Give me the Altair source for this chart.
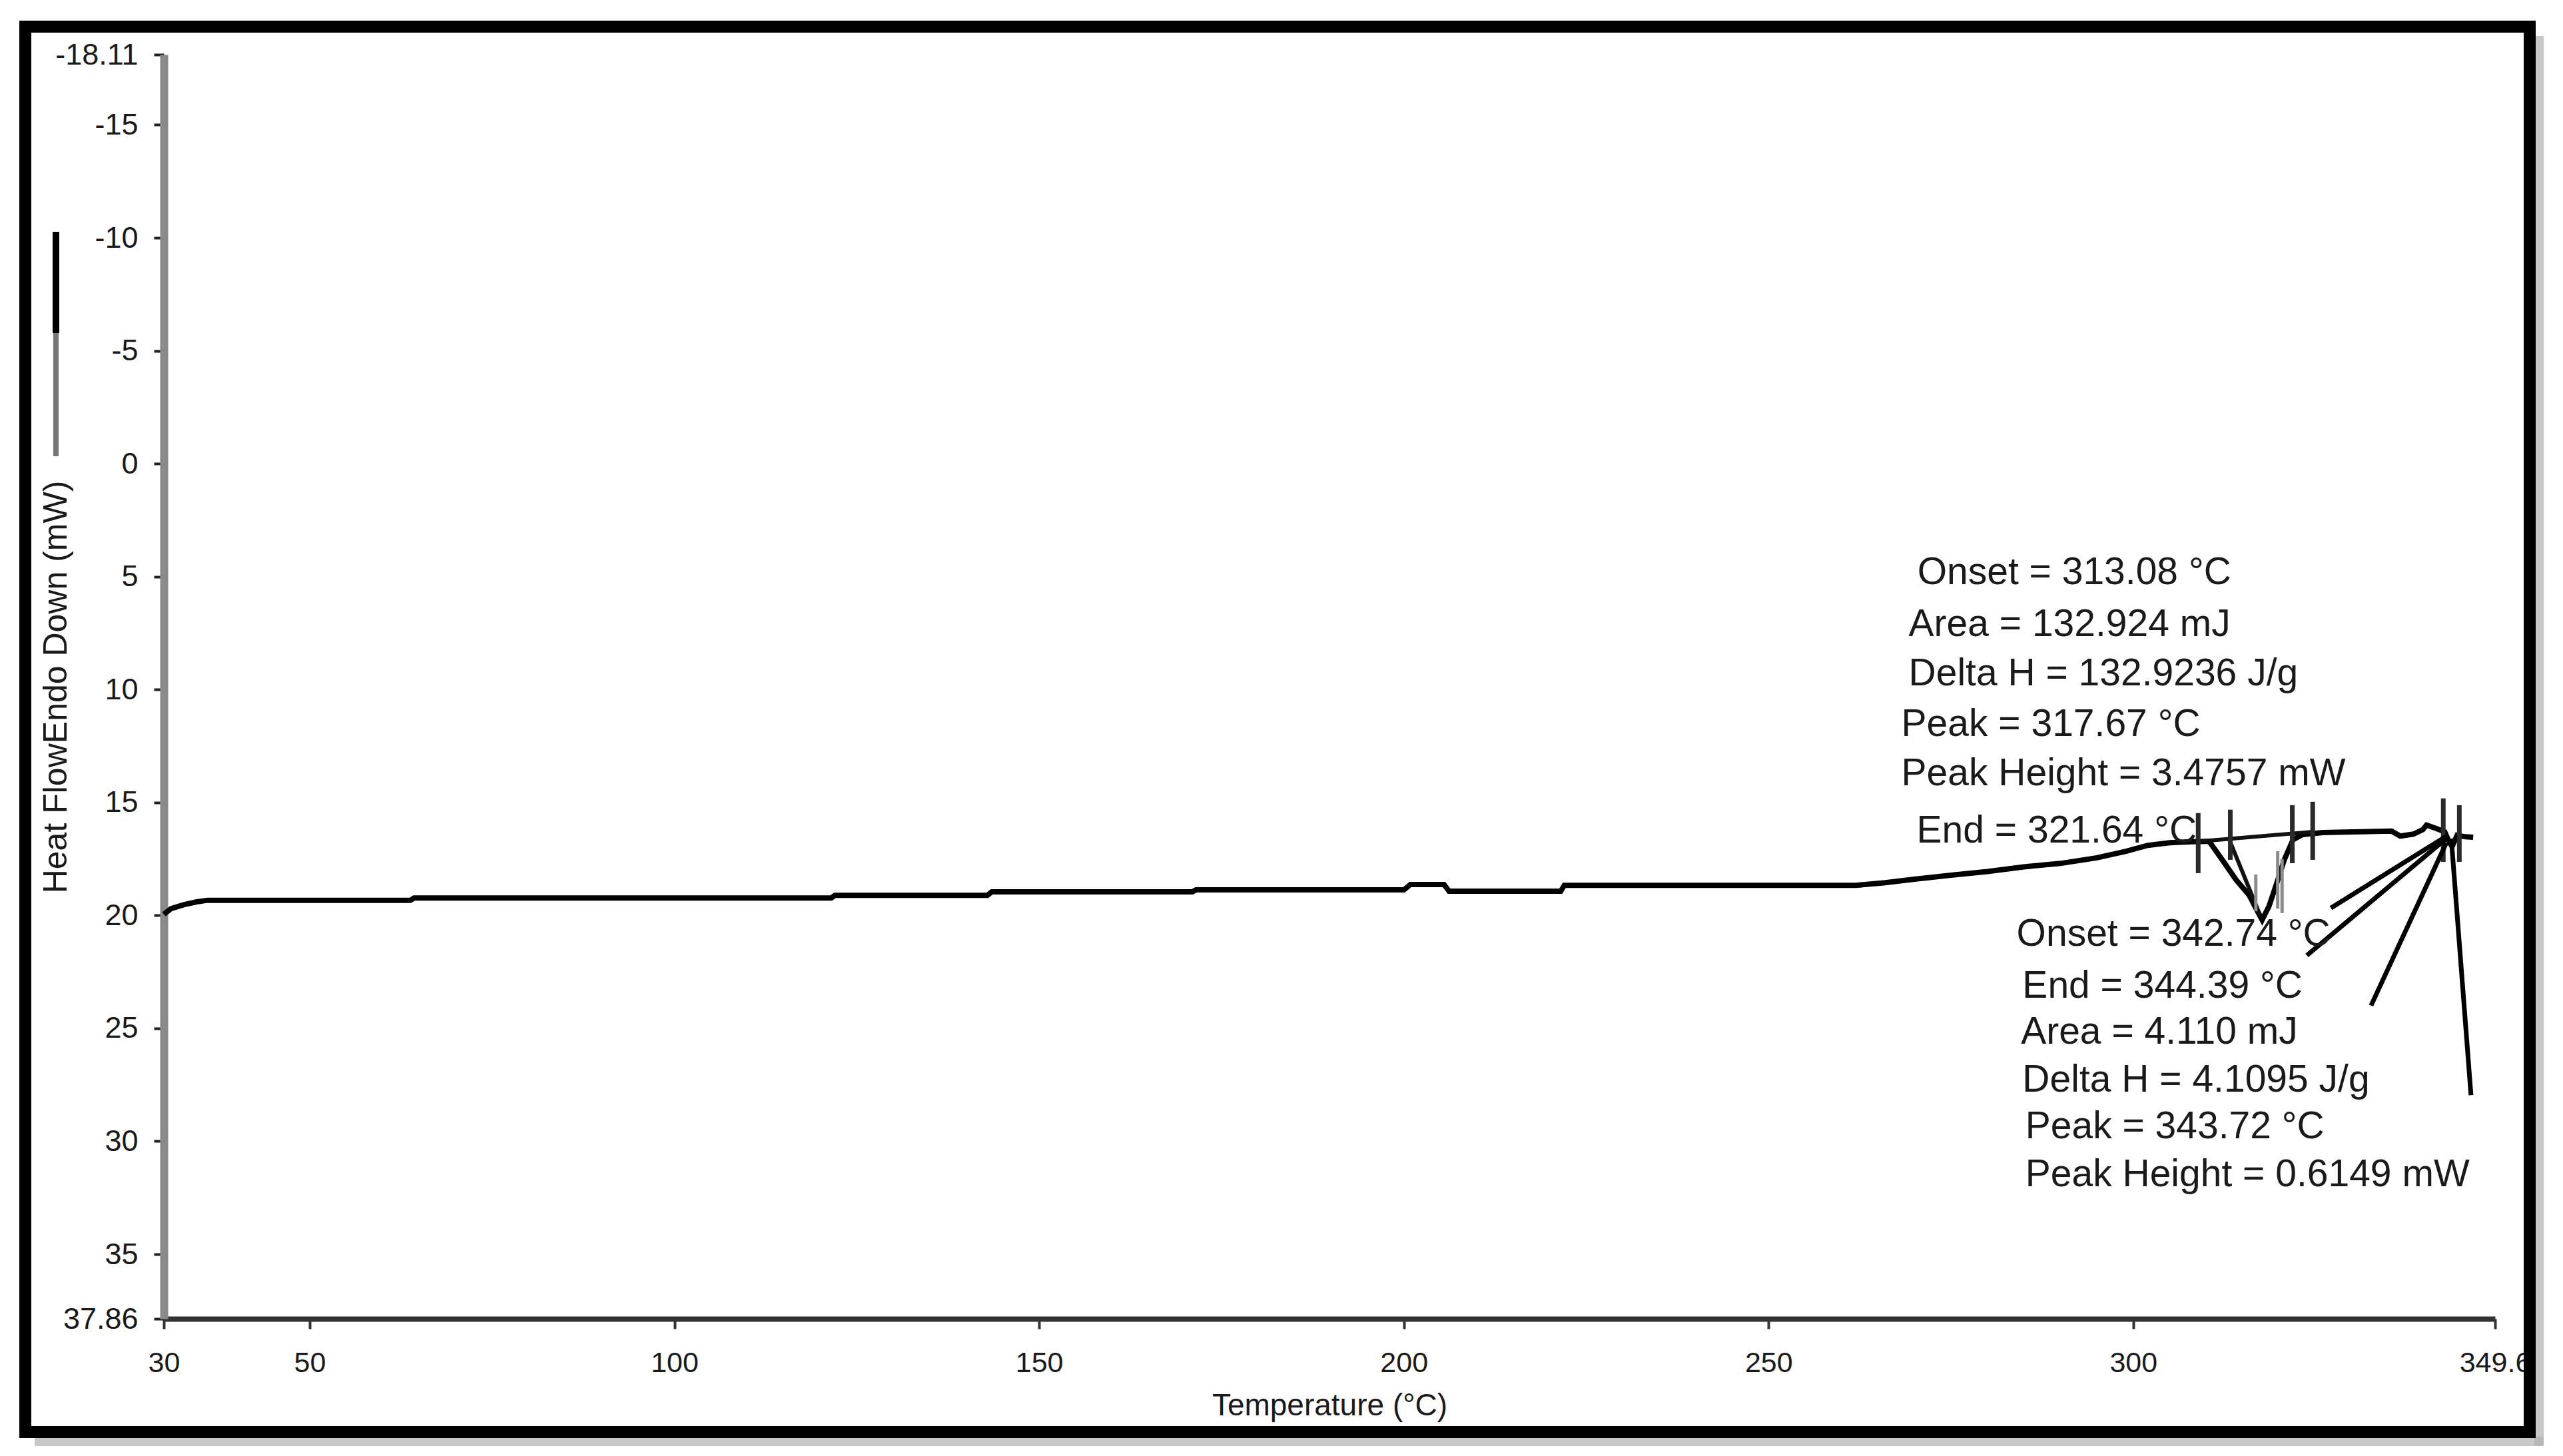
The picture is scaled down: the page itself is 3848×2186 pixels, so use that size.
import altair as alt
import pandas as pd

# ---------------- data ----------------
temperature_c = [30.0, 31.0, 32.8, 34.5, 36.0, 63.8, 64.3, 121.5, 122.0, 142.9, 143.5,
                 171.0, 171.5, 200.0, 200.9, 205.5, 206.2, 221.5, 222.0, 262.0, 266.0,
                 270.0, 275.0, 280.0, 285.0, 290.0, 295.0, 299.0, 302.0, 305.0, 308.0,
                 310.4, 312.2, 314.1, 315.9, 317.0, 317.67, 318.6, 319.6, 320.7, 321.9,
                 323.2, 326.0, 330.0, 335.4, 336.6, 338.4, 339.7, 340.2, 341.5, 342.7,
                 343.3, 343.72, 344.4, 345.5, 346.6]
heat_flow_mw = [19.95, 19.70, 19.52, 19.40, 19.33, 19.33, 19.23, 19.23, 19.11, 19.11, 18.96,
                18.96, 18.87, 18.87, 18.63, 18.63, 18.93, 18.93, 18.67, 18.67, 18.55,
                18.40, 18.22, 18.06, 17.85, 17.70, 17.45, 17.16, 16.90, 16.78, 16.74,
                16.72, 17.54, 18.43, 19.11, 19.80, 20.20, 19.60, 18.64, 17.54, 16.65,
                16.42, 16.33, 16.30, 16.27, 16.49, 16.40, 16.20, 16.00, 16.15, 16.30,
                16.75, 16.95, 16.45, 16.52, 16.54]

x_ticks = [30, 50, 100, 150, 200, 250, 300, 349.6]
y_ticks = [-18.11, -15, -10, -5, 0, 5, 10, 15, 20, 25, 30, 35, 37.86]

# peak-limit markers (temperature, top, bottom)
limit_t = [308.9, 313.3, 321.8, 324.6, 342.5, 344.7]
limit_top = [15.47, 15.32, 15.12, 14.97, 14.82, 15.12]
limit_bot = [18.13, 17.54, 17.69, 17.54, 17.63, 17.63]

# thin grey peak markers
gray_t = [316.8, 319.8, 320.4]
gray_top = [18.19, 17.16, 17.50]
gray_bot = [19.82, 19.70, 19.90]

# baseline and tangent construction lines
construct_t1 = [308.9, 313.1]
construct_v1 = [16.73, 16.60]
construct_t2 = [324.6, 317.4]
construct_v2 = [16.30, 20.00]

# leader lines from the second peak to its labels
leader_t1 = [342.9, 342.9, 342.9, 343.6]
leader_v1 = [16.50, 16.60, 16.80, 16.60]
leader_t2 = [327.1, 323.8, 332.6, 346.3]
leader_v2 = [19.67, 21.77, 23.99, 27.96]

labels_a = ["Onset = 313.08 °C", "Area = 132.924 mJ", "Delta H = 132.9236 J/g",
            "Peak = 317.67 °C", "Peak Height = 3.4757 mW", "End = 321.64 °C"]
labels_a_t = [270.4, 269.2, 269.2, 268.2, 268.2, 270.3]
labels_a_v = [4.82, 7.12, 9.30, 11.55, 13.73, 16.27]

labels_b = ["Onset = 342.74 °C", "End = 344.39 °C", "Area = 4.110 mJ",
            "Delta H = 4.1095 J/g", "Peak = 343.72 °C", "Peak Height = 0.6149 mW"]
labels_b_t = [284.0, 284.8, 284.6, 284.8, 285.2, 285.2]
labels_b_v = [20.84, 23.14, 25.18, 27.30, 29.37, 31.49]

# ---------------- chart ----------------
FONT = "Liberation Sans, Arial, Helvetica, sans-serif"
TXT = "#1a1a1a"

xscale = alt.Scale(domain=[30, 349.6], nice=False, zero=False)
yscale = alt.Scale(domain=[-18.11, 37.86], nice=False, zero=False, reverse=True)

xaxis = alt.Axis(values=x_ticks, labelExpr="datum.value + ''", title="Temperature (°C)",
                 grid=False, domainColor="#333333", domainWidth=8,
                 tickColor="#333333", tickWidth=4, tickSize=15,
                 labelFont=FONT, labelFontSize=43, labelColor=TXT, labelPadding=30,
                 labelFlush=False, labelOverlap=False,
                 titleFont=FONT, titleFontSize=46, titleFontWeight="normal", titleColor=TXT,
                 titleY=130, titleBaseline="middle")
yaxis = alt.Axis(values=y_ticks, labelExpr="datum.value + ''", title="Heat FlowEndo Down (mW)",
                 grid=False, domainColor="#8a8a8a", domainWidth=12,
                 tickColor="#222222", tickWidth=4, tickSize=15,
                 labelFont=FONT, labelFontSize=45, labelColor=TXT, labelPadding=24,
                 labelFlush=False, labelOverlap=False,
                 titleFont=FONT, titleFontSize=50, titleFontWeight="normal", titleColor=TXT,
                 titleAngle=270, titleX=-162, titleY=949, titleAlign="center",
                 titleBaseline="middle")

X = lambda f: alt.X(f, type="quantitative", scale=xscale, axis=xaxis)
Y = lambda f: alt.Y(f, type="quantitative", scale=yscale, axis=yaxis)

curve_df = pd.DataFrame({"T": temperature_c, "v": heat_flow_mw})
curve = alt.Chart(curve_df).mark_line(color="black", strokeWidth=8).encode(
    x=X("T"), y=Y("v"), order="T:Q")

limits = alt.Chart(pd.DataFrame({"T": limit_t, "v": limit_top, "v2": limit_bot})).mark_rule(
    color="#2a2a2a", strokeWidth=7).encode(x=X("T"), y=Y("v"), y2="v2")

grays = alt.Chart(pd.DataFrame({"T": gray_t, "v": gray_top, "v2": gray_bot})).mark_rule(
    color="#8c8c8c", strokeWidth=5).encode(x=X("T"), y=Y("v"), y2="v2")

construct = alt.Chart(pd.DataFrame({"T": construct_t1, "v": construct_v1,
                                    "T2": construct_t2, "v2": construct_v2})).mark_rule(
    color="#111111", strokeWidth=6).encode(x=X("T"), y=Y("v"), x2="T2", y2="v2")

leaders = alt.Chart(pd.DataFrame({"T": leader_t1, "v": leader_v1,
                                  "T2": leader_t2, "v2": leader_v2})).mark_rule(
    color="black", strokeWidth=7).encode(x=X("T"), y=Y("v"), x2="T2", y2="v2")

text_df = pd.DataFrame({"label": labels_a + labels_b,
                        "T": labels_a_t + labels_b_t,
                        "v": labels_a_v + labels_b_v})
texts = alt.Chart(text_df).mark_text(align="left", baseline="middle", font=FONT,
                                     fontSize=57, color=TXT).encode(
    x=X("T"), y=Y("v"), text="label:N")

one = pd.DataFrame({"k": [0]})
# small line sample next to the y-axis title
legend_black = alt.Chart(one).mark_rule(color="black", strokeWidth=10).encode(
    x=alt.value(-162), y=alt.value(266), y2=alt.value(418))
legend_gray = alt.Chart(one).mark_rule(color="#777777", strokeWidth=8).encode(
    x=alt.value(-162), y=alt.value(418), y2=alt.value(603))

# picture frame with soft shadow
shadow_r = alt.Chart(one).mark_rule(color="#b0b0b0", strokeWidth=14, opacity=0.7).encode(
    x=alt.value(3566), y=alt.value(-28), y2=alt.value(2089))
shadow_b = alt.Chart(one).mark_rule(color="#b0b0b0", strokeWidth=14, opacity=0.7).encode(
    x=alt.value(-194), x2=alt.value(3573), y=alt.value(2082))
frame = alt.Chart(one).mark_rect(filled=False, stroke="black", strokeWidth=18).encode(
    x=alt.value(-208), x2=alt.value(3552), y=alt.value(-42), y2=alt.value(2068))

chart = alt.layer(
    curve, construct, grays, limits, leaders, texts,
    legend_black, legend_gray, shadow_r, shadow_b, frame
).properties(
    width=3500, height=1898,
    padding={"left": 238, "top": 74, "right": 84, "bottom": 200},
    autosize=alt.AutoSizeParams(type="none"),
    background="white",
).configure_view(stroke=None)

chart.save("out.html", embed_options={"renderer": "svg", "actions": False})
